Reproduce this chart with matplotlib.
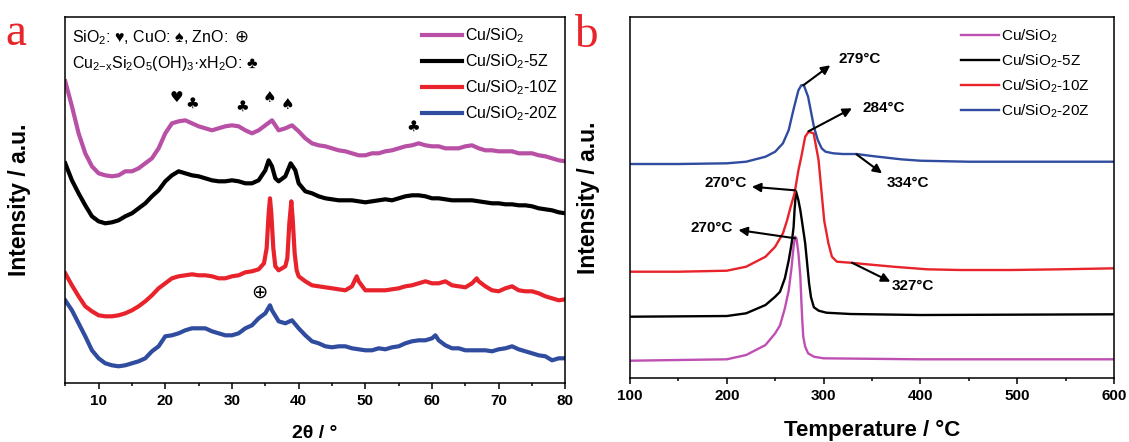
import matplotlib
matplotlib.use('Agg')
import matplotlib.pyplot as plt
from matplotlib.ticker import MultipleLocator

plt.rcParams['font.family'] = ['Liberation Sans', 'DejaVu Sans']
plt.rcParams['mathtext.fontset'] = 'custom'
plt.rcParams['mathtext.rm'] = 'Liberation Sans'
plt.rcParams['mathtext.it'] = 'Liberation Sans:italic'
plt.rcParams['mathtext.bf'] = 'Liberation Sans:bold'

# ---------- (a) XRD data, 2theta in degrees, intensity in a.u. ----------
labels = ['Cu/SiO$_2$', 'Cu/SiO$_2$-5Z', 'Cu/SiO$_2$-10Z', 'Cu/SiO$_2$-20Z']
xrd_colors = ['#B850A5', '#000000', '#E8232B', '#2F4C9F']
tpr_colors = ['#BE50B4', '#000000', '#E8232B', '#2F4C9F']

xrd_x_cu = list(range(5, 81))
xrd_y_cu = [302, 277, 250, 230, 217, 210, 208, 207, 208, 212, 212, 215, 220, 225, 235, 250,
            260, 262, 263, 260, 257, 255, 253, 255, 257, 258, 257, 253, 250, 253, 258, 263,
            253, 255, 258, 252, 245,
            240, 238, 237, 235, 233, 232, 230, 228, 228, 230, 230, 232, 233, 235, 237, 238,
            240, 238, 237, 237, 235, 235, 235, 237, 238, 235, 233, 233, 232, 232, 232, 230,
            230, 230, 228, 227, 225, 223, 222]

xrd_x_5z = [5, 6, 7, 8, 9, 10, 11, 12, 13, 14, 15, 16, 17, 18, 19, 20, 21, 22, 23, 24, 25,
            26, 27, 28, 29, 30, 31, 32, 33, 34, 35, 35.5, 36, 36.5, 37, 38, 38.8, 39.5, 40, 41] \
    + list(range(42, 81))
xrd_y_5z = [220, 203, 190, 178, 167, 162, 160, 161, 163, 167, 170, 175, 180, 187, 193, 202,
            208, 212, 210, 208, 207, 205, 203, 202, 202, 203, 202, 200, 200, 203, 213, 223,
            217, 205, 202, 207, 220, 213, 200, 192,
            190, 187, 185, 184, 183, 183, 183, 182, 181, 182, 183, 184, 183, 185, 187, 188,
            188, 187, 185, 185, 184, 183, 183, 183, 183, 182, 181, 180, 180, 179, 179, 178,
            178, 177, 175, 174, 173, 171, 170]

xrd_x_10z = list(range(5, 35)) \
    + [34.8, 35.2, 35.5, 35.7, 35.9, 36.2, 36.5, 37, 37.5, 38, 38.3, 38.6, 38.9, 39.1, 39.4,
       39.7, 40, 41, 42, 43, 44, 45, 46, 47, 48, 48.7] \
    + list(range(49, 67)) + [66.7] + list(range(67, 81))
xrd_y_10z = [110, 98, 87, 77, 72, 68, 67, 67, 68, 70, 73, 77, 82, 88, 95, 100, 105, 107,
             108, 109, 108, 108, 107, 105, 105, 107, 108, 111, 112, 114,
             120, 135, 170, 185, 170, 135, 117, 113, 115, 117, 125, 160, 182, 165, 130,
             113, 107, 102, 98, 97, 96, 95, 94, 93, 97, 107,
             102, 93, 93, 93, 93, 94, 95, 97, 98, 100, 102, 100, 100, 102, 98, 97, 96, 100,
             105,
             102, 97, 93, 92, 95, 97, 93, 92, 92, 90, 87, 85, 83, 84]

xrd_x_20z = list(range(5, 36)) + [35.7, 36, 37, 38, 39, 40, 41] \
    + list(range(42, 61)) + [60.5] + list(range(61, 81))
xrd_y_20z = [83, 73, 60, 47, 33, 25, 20, 18, 17, 18, 20, 22, 25, 32, 37, 47, 48, 50, 53,
             55, 55, 55, 52, 50, 48, 48, 50, 55, 58, 65, 70,
             78, 73, 62, 60, 63, 55, 48,
             42, 40, 37, 36, 37, 37, 35, 34, 33, 33, 35, 34, 36, 37, 40, 42, 43, 43, 45,
             48,
             43, 38, 35, 35, 33, 33, 33, 33, 32, 34, 35, 37, 34, 32, 30, 28, 27, 23, 25, 25]

# phase markers: (2theta, height, symbol)
marker_x = [21.7, 24.0, 31.5, 35.6, 38.3, 57.1]
marker_y = [286, 280, 277, 286, 279, 257]
marker_sym = ['♥', '♣', '♣', '♠', '♠', '♣']

# ---------- (b) H2-TPR data, temperature in C ----------
tpr_t_cu = [100, 200, 220, 240, 250, 255, 260, 264, 267, 269, 270.5, 272, 274, 276, 277,
            278, 279, 281, 284, 290, 300, 400, 600]
tpr_y_cu = [17.6, 19, 23.3, 33.3, 45, 53, 70, 88, 111.6, 131.6, 141.6, 140, 125, 101.6, 78,
            58, 41.6, 31.6, 25, 21.6, 20, 19, 19]

tpr_t_5z = [100, 200, 220, 240, 250, 255, 260, 264, 267, 269, 270, 271.5, 274, 276, 278,
            281, 283, 285, 287, 290, 295, 303, 328, 400, 600]
tpr_y_5z = [61.6, 62.3, 65, 73.3, 81.6, 86.6, 100, 118, 135, 151, 168, 187, 178, 168, 155,
            135, 115, 95, 81, 71, 67.6, 65.6, 64.3, 63.3, 64]

tpr_t_10z = [100, 150, 200, 220, 240, 250, 258, 262, 266, 270, 274, 277, 281, 284.5, 289.7,
             294.8, 298, 300.7, 305, 308.6, 313.8, 327.6, 345, 372, 407, 441, 493, 545, 600]
tpr_y_10z = [106.6, 106.6, 107.6, 111.6, 121.6, 131.6, 145, 157, 171.6, 185, 208, 221.6,
             241.6, 246.6, 245, 218.3, 185, 157.3, 135, 121.6, 116.6, 115.6, 114, 111.6,
             109, 108.3, 108.3, 109, 110]

tpr_t_20z = [100, 150, 200, 220, 240, 250, 258, 264, 268, 270, 274, 277, 279, 280, 284,
             288, 290, 294, 298, 302, 310, 320, 334, 350, 380, 400, 450, 500, 550, 600]
tpr_y_20z = [214.3, 214.3, 215, 216.6, 221.6, 226.6, 235, 248.3, 265, 273, 288, 293, 293.3,
             292, 281.6, 261.6, 251.6, 238.3, 230, 226.6, 225, 224.3, 224.3, 222.3, 219,
             217.6, 216.6, 216.6, 216.6, 216.6]

# peak annotations: text, arrow start (on curve), arrow end, text position, alignment
ann_text = ['279°C', '284°C', '334°C', '270°C', '270°C', '327°C']
ann_start = [(279, 293), (284.4, 247), (334, 224), (270.5, 188), (270.7, 140), (329.3, 115.6)]
ann_end = [(306.9, 313), (329.3, 270), (360.4, 205), (225.9, 191.6), (212, 148.3), (369, 96.6)]
ann_pos = [(315.2, 319), (340, 270), (365.5, 195.6), (220.7, 195), (206.2, 150), (370.7, 92.3)]
ann_ha = ['left', 'left', 'left', 'right', 'right', 'left']

fig = plt.figure(figsize=(11.29, 4.42), dpi=100)
ax1 = fig.add_axes([0.0578, 0.1328, 0.443, 0.828])
ax2 = fig.add_axes([0.558, 0.1441, 0.4287, 0.8167])

# panel a
xrd = [(xrd_x_cu, xrd_y_cu), (xrd_x_5z, xrd_y_5z), (xrd_x_10z, xrd_y_10z), (xrd_x_20z, xrd_y_20z)]
for (x, y), c, lab in zip(xrd, xrd_colors, labels):
    ax1.plot(x, y, color=c, lw=3.0, label=lab, solid_joinstyle='round')
ax1.set_xlim(5, 80)
ax1.set_ylim(0, 366)
ax1.xaxis.set_major_locator(MultipleLocator(10))
ax1.xaxis.set_minor_locator(MultipleLocator(5))
for sx, sy, s in zip(marker_x, marker_y, marker_sym):
    ax1.text(sx, sy, s, ha='center', va='center', fontsize=11, family='DejaVu Sans')
ax1.text(34.1, 90.6, '⊕', ha='center', va='center', fontsize=14, family='DejaVu Sans')
ax1.text(0.014, 0.945, 'SiO$_2$: ♥, CuO: ♠, ZnO:', transform=ax1.transAxes,
         ha='left', va='center', fontsize=11.5)
ax1.text(0.353, 0.947, '⊕', transform=ax1.transAxes, ha='center', va='center',
         fontsize=12, family='DejaVu Sans')
ax1.text(0.014, 0.873, 'Cu$_{2\\mathrm{-x}}$Si$_2$O$_5$(OH)$_3$·xH$_2$O: ♣', transform=ax1.transAxes,
         ha='left', va='center', fontsize=11.5)
ax1.legend(loc='upper right', bbox_to_anchor=(0.985, 0.975), frameon=False, fontsize=11.5,
           handlelength=2.5, handletextpad=0.2, labelspacing=0.45, borderaxespad=0, borderpad=0)

# panel b
tpr = [(tpr_t_cu, tpr_y_cu), (tpr_t_5z, tpr_y_5z), (tpr_t_10z, tpr_y_10z), (tpr_t_20z, tpr_y_20z)]
for (x, y), c, lab in zip(tpr, tpr_colors, labels):
    ax2.plot(x, y, color=c, lw=1.7, label=lab)
ax2.set_xlim(100, 600)
ax2.set_ylim(0, 361)
ax2.xaxis.set_major_locator(MultipleLocator(100))
ax2.xaxis.set_minor_locator(MultipleLocator(50))
for t, s, e, p, ha in zip(ann_text, ann_start, ann_end, ann_pos, ann_ha):
    ax2.annotate('', xy=e, xytext=s,
                 arrowprops=dict(arrowstyle='-|>', color='k', lw=1.5, mutation_scale=13,
                                 shrinkA=0, shrinkB=0))
    ax2.text(p[0], p[1], t, ha=ha, va='center', fontsize=11, fontweight='bold')
ax2.legend(loc='upper right', bbox_to_anchor=(0.95, 0.972), frameon=False, fontsize=11,
           handlelength=2.5, handletextpad=0.15, labelspacing=0.5, borderaxespad=0, borderpad=0)

for ax in (ax1, ax2):
    ax.set_yticks([])
    ax.tick_params(axis='x', which='major', direction='out', length=4, width=1.1)
    ax.tick_params(axis='x', which='minor', direction='out', length=2.5, width=1.1)
    for lbl in ax.get_xticklabels():
        lbl.set_fontweight('bold')
        lbl.set_fontsize(11)
    for sp in ax.spines.values():
        sp.set_linewidth(1.1)

fig.text(20 / 1129, 1 - 200 / 442, 'Intensity / a.u.', rotation=90, ha='center', va='center',
         fontsize=16.5, fontweight='bold')
fig.text(589 / 1129, 1 - 198 / 442, 'Intensity / a.u.', rotation=90, ha='center', va='center',
         fontsize=16.5, fontweight='bold')
fig.text(315 / 1129, 1 - 433 / 442, '2θ / °', ha='center', va='center', fontsize=14,
         fontweight='bold')
fig.text(872 / 1129, 1 - 430 / 442, 'Temperature / °C', ha='center', va='center', fontsize=16,
         fontweight='bold')

# panel letters
fig.text(16 / 1129, 1 - 45 / 442, 'a', color='#E8252B', family='Liberation Serif', fontsize=34,
         ha='center', va='baseline')
fig.text(586 / 1129, 1 - 47 / 442, 'b', color='#E8252B', family='Liberation Serif', fontsize=34,
         ha='center', va='baseline')

fig.savefig('out.png', dpi=100)
